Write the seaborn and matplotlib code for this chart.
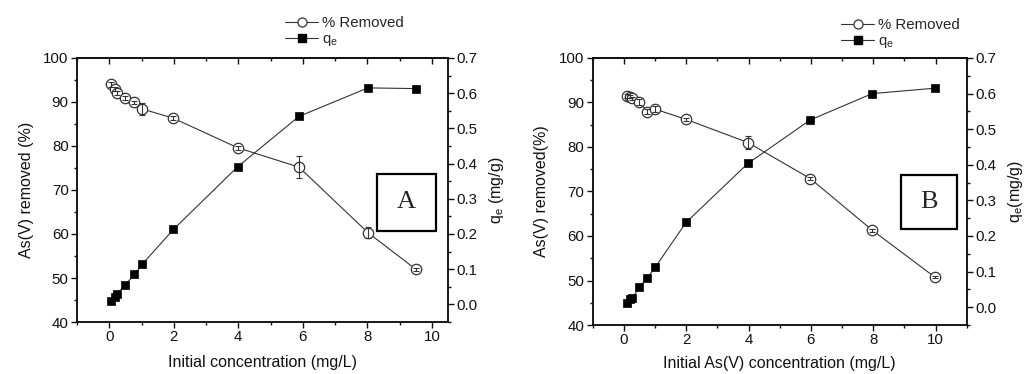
import numpy as np
import pandas as pd
import seaborn as sns
import matplotlib.pyplot as plt
from matplotlib.lines import Line2D
from matplotlib.patches import Rectangle
from matplotlib.ticker import MultipleLocator

# Panel A: initial concentration (mg/L), % removed (with error), q_e (mg/g)
conc_a = [0.05, 0.18, 0.24, 0.5, 0.78, 1.03, 1.99, 3.98, 5.88, 8.02, 9.5]
removed_a = [94.0, 92.9, 92.1, 90.9, 89.9, 88.4, 86.3, 79.6, 75.2, 60.3, 52.0]
removed_err_a = [0.5, 0.5, 0.5, 0.4, 0.4, 1.3, 0.4, 0.4, 2.5, 1.2, 0.3]
qe_a = [0.011, 0.022, 0.030, 0.056, 0.085, 0.115, 0.213, 0.391, 0.534, 0.615, 0.613]

# Panel B: initial As(V) concentration (mg/L)
conc_b = [0.09, 0.19, 0.27, 0.49, 0.75, 1.0, 1.99, 3.98, 5.98, 7.97, 9.97]
removed_b = [91.5, 91.3, 90.9, 90.1, 87.9, 88.5, 86.2, 81.0, 72.9, 61.3, 50.8]
removed_err_b = [0.4, 0.4, 0.4, 0.6, 0.6, 0.6, 0.4, 1.4, 0.3, 0.3, 0.3]
qe_b = [0.012, 0.024, 0.026, 0.056, 0.083, 0.112, 0.238, 0.404, 0.526, 0.600, 0.615]

left_ticks = [40, 50, 60, 70, 80, 90, 100]
right_ticks = [0.0, 0.1, 0.2, 0.3, 0.4, 0.5, 0.6, 0.7]
x_ticks = [0, 2, 4, 6, 8, 10]

sns.set_style("ticks")
plt.rcParams["font.family"] = ["Liberation Sans", "DejaVu Sans"]
plt.rcParams["mathtext.default"] = "regular"
plt.rcParams["axes.linewidth"] = 1.1

INK = "#111111"
LINE = "#333333"

fig = plt.figure(figsize=(10.24, 3.74), dpi=100)


def panel(rect, conc, removed, err, qe, xlim, xlabel, ylabel_l, ylabel_r,
          letter, box, legend_anchor, xpad):
    ax = fig.add_axes(rect)
    ax2 = ax.twinx()

    df = pd.DataFrame({"conc": conc, "removed": removed, "qe": qe})

    sns.lineplot(data=df, x="conc", y="removed", ax=ax, sort=False,
                 color=LINE, lw=0.8, marker="o", ms=7.5, mfc="white",
                 mec=LINE, mew=0.9, zorder=3)
    ax.errorbar(conc, removed, yerr=err, fmt="none", ecolor=LINE,
                elinewidth=0.8, capsize=2.5, capthick=0.8, zorder=4)

    sns.lineplot(data=df, x="conc", y="qe", ax=ax2, sort=False,
                 color=LINE, lw=0.8, marker="s", ms=6.2, mfc="black",
                 mec="black", mew=0.5, zorder=3)

    ax.set_xlim(*xlim)
    ax.set_ylim(40, 100)
    ax2.set_ylim(-0.05, 0.7)

    ax.set_xticks(x_ticks)
    ax.xaxis.set_minor_locator(MultipleLocator(1))
    ax.set_yticks(left_ticks)
    ax.yaxis.set_minor_locator(MultipleLocator(5))
    ax2.set_yticks(right_ticks)
    ax2.set_yticklabels([f"{t:.1f}" for t in right_ticks])
    ax2.yaxis.set_minor_locator(MultipleLocator(0.05))

    for a in (ax, ax2):
        a.tick_params(which="major", length=4, width=1.0, labelsize=10.8,
                      colors=INK, pad=2)
        a.tick_params(which="minor", length=2.5, width=1.0, colors=INK)
        for s in a.spines.values():
            s.set_visible(True)
            s.set_color(INK)

    # inward ticks along the top edge
    top = ax.secondary_xaxis("top")
    top.set_xticks(x_ticks)
    top.xaxis.set_minor_locator(MultipleLocator(1))
    top.tick_params(which="major", direction="in", length=4, width=1.0,
                    labeltop=False, colors=INK)
    top.tick_params(which="minor", direction="in", length=2.5, width=1.0,
                    colors=INK)

    ax.set_xlabel(xlabel, fontsize=11.5, color=INK, labelpad=xpad)
    ax.set_ylabel(ylabel_l, fontsize=11.5, color=INK, labelpad=7)
    ax2.set_ylabel(ylabel_r, fontsize=11.5, color=INK, labelpad=7)

    ax2.add_patch(Rectangle((box[0], box[1]), box[2], box[3],
                            transform=ax2.transAxes, fill=True,
                            facecolor="white", edgecolor="black", lw=1.6,
                            zorder=5))
    ax2.text(box[0] + box[2] / 2, box[1] + box[3] / 2, letter,
             transform=ax2.transAxes, ha="center", va="center",
             fontsize=19, family="Liberation Serif", zorder=6)

    handles = [
        Line2D([], [], color=LINE, lw=0.8, marker="o", ms=6.5,
               mfc="white", mec=LINE, mew=0.9),
        Line2D([], [], color=LINE, lw=0.8, marker="s", ms=5.5,
               mfc="black", mec="black"),
    ]
    fig.legend(handles, ["% Removed", "q$_e$"], loc="upper left",
               bbox_to_anchor=legend_anchor, frameon=False, fontsize=10.8,
               handlelength=2.2, handletextpad=0.3, labelspacing=0.15,
               borderaxespad=0, borderpad=0)
    return ax, ax2


panel([0.0752, 0.139, 0.3623, 0.706], conc_a, removed_a, removed_err_a, qe_a,
      (-1, 10.5), "Initial concentration (mg/L)", "As(V) removed (%)",
      "q$_e$ (mg/g)", "A", (0.809, 0.345, 0.159, 0.216),
      (285 / 1024, 1 - 16 / 374), 8)

panel([0.579, 0.131, 0.365, 0.714], conc_b, removed_b, removed_err_b, qe_b,
      (-1, 11), "Initial As(V) concentration (mg/L)", "As(V) removed(%)",
      "q$_e$(mg/g)", "B", (0.823, 0.36, 0.152, 0.202),
      (841 / 1024, 1 - 18 / 374), 6.5)

fig.savefig("out.png", dpi=100)
